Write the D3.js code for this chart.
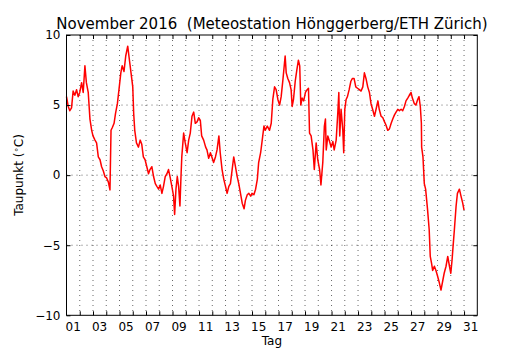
<!DOCTYPE html>
<html>
<head>
<meta charset="utf-8">
<script src="https://cdnjs.cloudflare.com/ajax/libs/d3/7.8.5/d3.min.js"></script>
<style>
  body{margin:0;background:#fff;}
  text{font-family:"DejaVu Sans",sans-serif;fill:#000;}
</style>
</head>
<body>
<svg class="plot" width="530" height="350"></svg>
<script>
// Zeit in Tagen seit 1. Nov 00:00
var tage=[0.0,0.13,0.25,0.38,0.5,0.63,0.76,0.88,1.0,1.14,1.26,1.39,1.5,1.64,1.77,1.9,2.0,2.15,2.27,2.4,2.53,2.65,2.78,2.9,3.03,3.16,3.28,3.36,3.46,3.59,3.7,3.84,3.96,4.1,4.2,4.34,4.47,4.62,4.75,4.87,5.0,5.07,5.15,5.28,5.43,5.56,5.68,5.8,5.93,6.06,6.19,6.3,6.44,6.57,6.7,6.82,6.95,7.07,7.2,7.32,7.45,7.58,7.7,7.83,7.95,8.08,8.16,8.26,8.36,8.46,8.56,8.64,8.7,8.84,8.96,9.1,9.22,9.34,9.47,9.6,9.72,9.85,9.97,10.1,10.2,10.35,10.5,10.6,10.73,10.86,11.0,11.1,11.24,11.36,11.5,11.6,11.74,11.87,12.0,12.12,12.25,12.37,12.5,12.62,12.75,12.88,13.0,13.13,13.26,13.4,13.5,13.64,13.76,13.9,14.0,14.14,14.27,14.4,14.5,14.65,14.77,14.9,15.0,15.15,15.32,15.45,15.57,15.7,15.82,15.95,16.08,16.2,16.33,16.45,16.5,16.58,16.7,16.83,16.95,17.03,17.13,17.26,17.38,17.5,17.6,17.68,17.78,17.9,18.03,18.16,18.26,18.34,18.46,18.6,18.7,18.84,18.96,19.1,19.2,19.34,19.46,19.54,19.6,19.72,19.85,19.97,20.1,20.2,20.35,20.47,20.55,20.62,20.72,20.85,20.92,21.0,21.1,21.2,21.33,21.46,21.58,21.7,21.83,21.96,22.1,22.23,22.36,22.48,22.6,22.73,22.86,22.98,23.1,23.24,23.36,23.5,23.6,23.74,23.87,24.0,24.1,24.24,24.37,24.5,24.62,24.75,24.87,25.0,25.12,25.25,25.37,25.5,25.62,25.75,25.87,26.0,26.1,26.25,26.37,26.5,26.6,26.7,26.78,26.8,26.9,27.0,27.1,27.25,27.37,27.45,27.55,27.63,27.76,27.88,28.0,28.14,28.26,28.4,28.5,28.64,28.77,28.9,29.0,29.1,29.17,29.27,29.4,29.5,29.65,29.77,29.9,30.0];
// Taupunkt in Grad C
var taupunkt=[5.6,4.9,4.6,4.8,6.0,5.7,6.1,5.6,5.9,6.6,5.9,7.8,6.6,5.9,4.0,3.2,2.8,2.5,2.3,1.3,1.1,0.6,0.3,-0.1,-0.2,-0.5,-1.05,3.2,3.4,3.7,4.4,5.1,6.1,7.3,7.8,7.4,8.5,9.2,8.2,7.3,6.3,4.4,3.2,2.3,2.0,2.5,2.2,1.3,1.1,0.6,0.1,0.4,0.6,-0.1,-0.6,-0.8,-1.0,-0.7,-1.3,-0.8,-0.1,0.1,0.4,-0.2,-0.8,-1.5,-2.8,-1.0,-0.1,-0.8,-2.2,-0.1,1.3,3.0,2.3,1.6,2.5,3.0,4.2,4.5,3.7,3.8,4.1,3.9,2.8,2.5,2.0,1.8,1.2,1.6,1.2,0.9,1.3,1.8,2.8,1.6,0.4,-0.3,-0.8,-1.3,-0.8,-0.6,0.4,1.3,0.6,-0.1,-0.6,-1.3,-2.0,-2.4,-1.8,-1.4,-1.3,-1.5,-1.3,-1.4,-1.0,-0.3,0.9,1.6,2.5,3.5,3.2,3.5,3.2,3.7,5.4,6.3,6.1,5.4,5.0,5.6,6.8,8.0,8.5,7.3,6.9,6.6,6.1,4.9,5.4,6.7,7.5,8.2,7.8,5.0,5.5,5.3,5.9,6.1,6.2,3.0,2.8,1.8,0.4,2.3,1.1,0.4,-0.7,0.9,3.5,4.0,1.8,2.8,2.4,2.0,2.4,1.8,2.5,4.4,5.9,2.8,4.7,3.2,1.6,4.7,5.4,5.6,6.1,6.7,6.9,6.9,6.3,6.2,6.1,6.0,6.3,7.3,6.9,6.3,5.9,5.1,4.7,4.2,4.7,5.3,4.7,4.2,4.1,3.8,3.6,3.2,3.3,3.7,4.0,4.3,4.5,4.7,4.6,4.7,4.6,4.9,5.3,5.5,5.7,5.9,5.5,5.1,5.0,5.4,5.6,4.9,3.7,2.0,1.3,-0.6,-1.0,-2.5,-3.9,-5.8,-6.3,-6.8,-6.5,-6.8,-7.2,-7.7,-8.2,-7.5,-7.0,-6.5,-5.8,-6.5,-7.0,-6.0,-5.1,-3.9,-2.2,-1.3,-1.0,-1.5,-2.0,-2.5];
var yTicks=[-10,-5,0,5,10];
var yLabels=["\u221210","\u22125","0","5","10"];
var dayLines=d3.range(1,31);
var dayLabels=["01","03","05","07","09","11","13","15","17","19","21","23","25","27","29","31"];

var screen={width:530,height:350};
var margin={top:35,bottom:34.7,left:66.5,right:52.7};
var width=screen.width-margin.left-margin.right;
var height=screen.height-margin.top-margin.bottom;

var svg=d3.select("svg.plot");
var xscale=d3.scaleLinear().domain([0,31]).range([0,width]);
var yscale=d3.scaleLinear().domain([-10,10]).range([height,0]);

var plot=svg.append("g")
            .attr("transform","translate("+margin.left+","+margin.top+")");

// Gitter
plot.selectAll("line.vgrid")
    .data(dayLines)
    .enter()
    .append("line")
    .attr("x1",function(d){return xscale(d);})
    .attr("x2",function(d){return xscale(d);})
    .attr("y1",0)
    .attr("y2",height)
    .attr("stroke","#000")
    .attr("stroke-width",0.6)
    .attr("stroke-dasharray","1,4");
plot.selectAll("line.hgrid")
    .data([-5,0,5])
    .enter()
    .append("line")
    .attr("x1",0)
    .attr("x2",width)
    .attr("y1",function(d){return yscale(d);})
    .attr("y2",function(d){return yscale(d);})
    .attr("stroke","#000")
    .attr("stroke-width",0.6)
    .attr("stroke-dasharray","1,4");

// Kurve
var punkte=tage.map(function(t,i){return [t,taupunkt[i]];});
var line=d3.line()
           .x(function(d){return xscale(d[0]);})
           .y(function(d){return yscale(d[1]);});
plot.append("path")
    .datum(punkte)
    .attr("d",line)
    .attr("fill","none")
    .attr("stroke","#ff0000")
    .attr("stroke-width",1.5)
    .attr("stroke-linejoin","round");

// Achsen (Ticks nach innen, auf allen Seiten)
var xAxisB=d3.axisBottom(xscale).tickValues(dayLines).tickSize(-4).tickFormat("");
var xAxisT=d3.axisTop(xscale).tickValues(dayLines).tickSize(-4).tickFormat("");
var yAxisL=d3.axisLeft(yscale).tickValues(yTicks).tickSize(-4).tickFormat("");
var yAxisR=d3.axisRight(yscale).tickValues(yTicks).tickSize(-4).tickFormat("");
[[xAxisB,"translate(0,"+height+")"],[xAxisT,"translate(0,0)"],[yAxisL,"translate(0,0)"],[yAxisR,"translate("+width+",0)"]]
  .forEach(function(a){
    var g=plot.append("g").attr("transform",a[1]).call(a[0]);
    g.select(".domain").remove();
    g.selectAll(".tick line").attr("stroke","#000").attr("stroke-width",1);
  });

plot.append("rect")
    .attr("x",0).attr("y",0)
    .attr("width",width).attr("height",height)
    .attr("fill","none")
    .attr("stroke","#000")
    .attr("stroke-width",1);

// Tick-Beschriftungen
plot.selectAll("text.ylab")
    .data(yTicks)
    .enter()
    .append("text")
    .attr("x",-6)
    .attr("y",function(d){return yscale(d)+4.3;})
    .attr("text-anchor","end")
    .style("font-size","12px")
    .text(function(d,i){return yLabels[i];});
plot.selectAll("text.xlab")
    .data(dayLabels)
    .enter()
    .append("text")
    .attr("x",function(d,i){return xscale(i*2+0.5);})
    .attr("y",height+16)
    .attr("text-anchor","middle")
    .style("font-size","12px")
    .text(function(d){return d;});

svg.append("text")
   .attr("x",margin.left+width/2)
   .attr("y",28.5)
   .attr("text-anchor","middle")
   .style("font-size","15px")
   .style("white-space","pre")
   .text("November 2016  (Meteostation H\u00f6nggerberg/ETH Z\u00fcrich)");
svg.append("text")
   .attr("x",margin.left+width/2)
   .attr("y",345)
   .attr("text-anchor","middle")
   .style("font-size","12px")
   .text("Tag");
var ylab=svg.append("text")
   .attr("transform","translate(23,175) rotate(-90)")
   .attr("text-anchor","middle")
   .style("font-size","12px");
ylab.append("tspan").text("Taupunkt (");
ylab.append("tspan").attr("dy",-4).style("font-size","8.5px").text("\u2218");
ylab.append("tspan").attr("dy",4).text("C");
ylab.append("tspan").text(")");
</script>
</body>
</html>
